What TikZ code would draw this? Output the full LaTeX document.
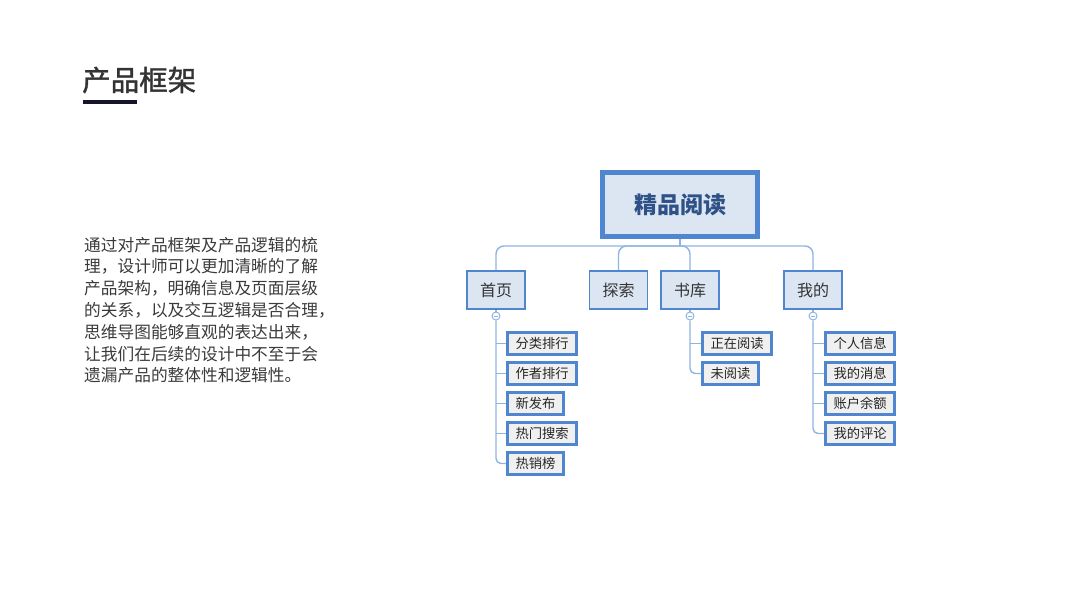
\documentclass[tikz,border=0pt]{standalone}
\usepackage{fontspec}
\setmainfont{Noto Sans CJK SC}
\newfontfamily\titlefont[FakeBold=1.3]{Noto Sans CJK SC}
\usetikzlibrary{calc}
\definecolor{titlegray}{HTML}{333333}
\definecolor{bodygray}{HTML}{3A3A3A}
\definecolor{navy}{HTML}{14142B}
\definecolor{boxblue}{HTML}{4F86CF}
\definecolor{boxfill}{HTML}{DCE6F2}
\definecolor{leaffill}{HTML}{F0F0F0}
\definecolor{linkblue}{HTML}{8DB4E2}
\definecolor{rootText}{HTML}{2E5287}
\tikzset{
  rootbox/.style={draw=boxblue, line width=4.5pt, fill=boxfill, minimum width=155pt, minimum height=64pt, inner sep=0pt,
     font=\fontsize{23}{23}\selectfont\bfseries, text=rootText},
  catbox/.style={draw=boxblue, line width=1.8pt, fill=boxfill, minimum width=58pt, minimum height=38pt, inner sep=0pt,
     font=\fontsize{16}{16}\selectfont, text=titlegray},
  leafbox/.style={draw=boxblue, line width=3pt, fill=leaffill, minimum height=22pt, inner xsep=8pt, inner ysep=0pt,
     anchor=west, font=\fontsize{13.3}{13.3}\selectfont, text=black!85},
  link/.style={draw=linkblue, line width=1.4pt},
  toggle/.style={circle, draw=linkblue, line width=1pt, fill=white, minimum size=8pt, inner sep=0pt},
  bodyline/.style={anchor=west, inner sep=0pt, font=\fontsize{16.7}{16.7}\selectfont, text=bodygray},
}
\begin{document}
\begin{tikzpicture}[x=1pt,y=-1pt]
\useasboundingbox (0,0) rectangle (1067,600);
% title
\node[anchor=west, inner sep=0pt, font=\titlefont\fontsize{28.5}{28.5}\selectfont, text=titlegray] (title) at (82,80) {产品框架};
\fill[navy] (83,100) rectangle (137,103.5);
% paragraph
\foreach \t [count=\i] in {通过对产品框架及产品逻辑的梳,理，设计师可以更加清晰的了解,产品架构，明确信息及页面层级,的关系，以及交互逻辑是否合理，,思维导图能够直观的表达出来，,让我们在后续的设计中不至于会,遗漏产品的整体性和逻辑性。}
  \node[bodyline] (p\i) at (84,{245+(\i-1)*21.75}) {\t};
% root
\node[rootbox] (root) at (680,204.5) {精品阅读};
% categories
\node[catbox] (home) at (496,290) {首页};
\node[catbox] (explore) at (618.5,290) {探索};
\node[catbox] (library) at (690,290) {书库};
\node[catbox] (mine) at (813,290) {我的};
\coordinate (hub) at (680,246);
\draw[link] (root.south) -- (hub);
\foreach \c in {home,explore,library,mine}
  \draw[link, rounded corners=8pt] (hub) -| (\c.north);
% toggles
\node[toggle] (t1) at (496,316) {};
\node[toggle] (t2) at (690,316) {};
\node[toggle] (t3) at (813,316) {};
\foreach \t in {t1,t2,t3}
  \draw[draw=linkblue, line width=0.9pt] ($(\t)+(-2.2,0)$) -- ($(\t)+(2.2,0)$);
\draw[link] (home.south) -- (t1.north);
\draw[link] (library.south) -- (t2.north);
\draw[link] (mine.south) -- (t3.north);
% leaves of home
\node[leafbox] (h1) at (506,343.5) {分类排行};
\node[leafbox] (h2) at (506,373.5) {作者排行};
\node[leafbox] (h3) at (506,403.5) {新发布};
\node[leafbox] (h4) at (506,433.5) {热门搜索};
\node[leafbox] (h5) at (506,463.5) {热销榜};
\draw[link, rounded corners=5pt] (t1.south) |- (h5.west);
\foreach \l in {h1,h2,h3,h4}
  \draw[link] (t1.south |- \l.west) -- (\l.west);
% leaves of library
\node[leafbox] (b1) at (701,343.5) {正在阅读};
\node[leafbox] (b2) at (701,373.5) {未阅读};
\draw[link, rounded corners=5pt] (t2.south) |- (b2.west);
\draw[link] (t2.south |- b1.west) -- (b1.west);
% leaves of mine
\node[leafbox] (m1) at (824,343.5) {个人信息};
\node[leafbox] (m2) at (824,373.5) {我的消息};
\node[leafbox] (m3) at (824,403.5) {账户余额};
\node[leafbox] (m4) at (824,433.5) {我的评论};
\draw[link, rounded corners=5pt] (t3.south) |- (m4.west);
\foreach \l in {m1,m2,m3}
  \draw[link] (t3.south |- \l.west) -- (\l.west);
\end{tikzpicture}
\end{document}
